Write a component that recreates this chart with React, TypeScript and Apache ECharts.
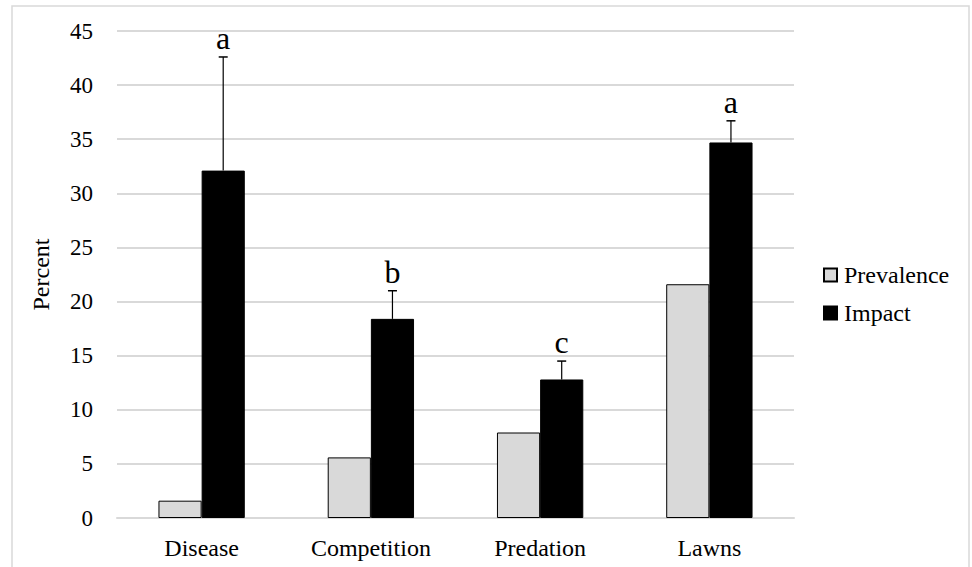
import React, { useEffect, useRef } from "react";
import * as echarts from "echarts";

const categories = ["Disease", "Competition", "Predation", "Lawns"];
const prevalence = [1.6, 5.6, 7.9, 21.6];
const impact = [32.1, 18.4, 12.8, 34.7];
const impactErr = [10.5, 2.6, 1.7, 2.0];
const letters = ["a", "b", "c", "a"];
const yTicks = { min: 0, max: 45, interval: 5 };

const FONT = "Liberation Serif";
const BAR_FRAC = 0.255;

export default function App() {
  const ref = useRef<HTMLDivElement>(null);
  useEffect(() => {
    if (!ref.current) return;
    const chart = echarts.init(ref.current, null, { renderer: "svg" });
    chart.setOption({
      animation: false,
      backgroundColor: "#fff",
      textStyle: { fontFamily: FONT, color: "#000" },
      graphic: [
        {
          type: "rect",
          shape: { x: 12, y: 6, width: 957, height: 600 },
          style: { fill: "none", stroke: "#d9d9d9", lineWidth: 1.5 },
          silent: true,
        },
      ],
      grid: { left: 117, right: 178, top: 31, bottom: 49, containLabel: false },
      legend: {
        data: ["Prevalence", "Impact"],
        orient: "vertical",
        left: 818,
        top: 258,
        itemWidth: 13,
        itemHeight: 13,
        itemGap: 14,
        icon: "rect",
        textStyle: {
          fontFamily: FONT,
          fontSize: 24,
          color: "#000",
          padding: [0, 0, 0, 2],
        },
      },
      xAxis: {
        type: "category",
        data: categories,
        axisLine: { show: true, lineStyle: { color: "#d9d9d9", width: 2 } },
        axisTick: { show: false },
        axisLabel: {
          interval: 0,
          fontFamily: FONT,
          fontSize: 24,
          color: "#000",
          margin: 18,
        },
      },
      yAxis: {
        type: "value",
        min: yTicks.min,
        max: yTicks.max,
        interval: yTicks.interval,
        name: "Percent",
        nameLocation: "middle",
        nameRotate: 90,
        nameGap: 64,
        nameTextStyle: { fontFamily: FONT, fontSize: 24, color: "#000" },
        axisLine: { show: false },
        axisTick: { show: false },
        axisLabel: {
          fontFamily: FONT,
          fontSize: 23,
          color: "#000",
          margin: 24,
        },
        splitLine: { lineStyle: { color: "#d9d9d9", width: 2 } },
      },
      series: [
        {
          name: "Prevalence",
          type: "bar",
          data: prevalence,
          barWidth: BAR_FRAC * 100 + "%",
          barGap: "0%",
          itemStyle: { color: "#d9d9d9", borderColor: "#000", borderWidth: 1 },
        },
        {
          name: "Impact",
          type: "bar",
          data: impact,
          barWidth: BAR_FRAC * 100 + "%",
          barGap: "0%",
          itemStyle: { color: "#000", borderColor: "#000", borderWidth: 1 },
        },
        {
          name: "err",
          type: "custom",
          data: categories.map((c, i) => [i, impact[i], impactErr[i]]),
          z: 5,
          renderItem: (params: any, api: any) => {
            const i = api.value(0);
            const v = api.value(1);
            const e = api.value(2);
            const base = api.coord([i, v]);
            const top = api.coord([i, v + e]);
            const band = api.size([1, 0])[0];
            const x = base[0] + (band * BAR_FRAC) / 2;
            return {
              type: "group",
              children: [
                {
                  type: "line",
                  shape: { x1: x, y1: base[1], x2: x, y2: top[1] },
                  style: { stroke: "#000", lineWidth: 1.2 },
                },
                {
                  type: "line",
                  shape: { x1: x - 4.5, y1: top[1], x2: x + 4.5, y2: top[1] },
                  style: { stroke: "#000", lineWidth: 1.5 },
                },
                {
                  type: "text",
                  x: x,
                  y: top[1] - 3,
                  style: {
                    text: letters[params.dataIndex],
                    textAlign: "center",
                    textVerticalAlign: "bottom",
                    fontFamily: FONT,
                    fontSize: 32,
                    fill: "#000",
                  },
                },
              ],
            };
          },
        },
      ],
    });
    return () => chart.dispose();
  }, []);
  return (
    <div
      ref={ref}
      style={{ position: "fixed", left: 0, top: 0, width: 972, height: 567 }}
    />
  );
}
